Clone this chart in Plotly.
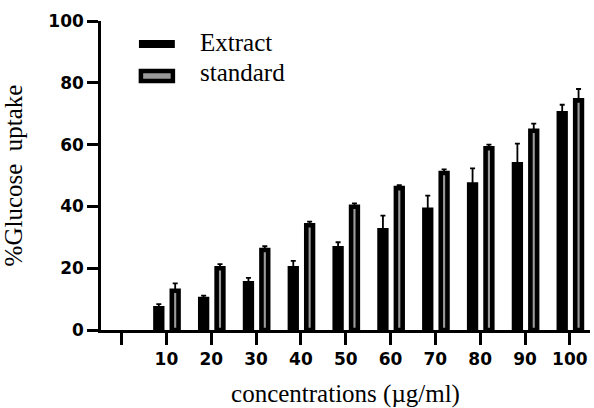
import plotly.graph_objects as go

categories = ["", "10", "20", "30", "40", "50", "60", "70", "80", "90", "100"]
conc_labels = ["10", "20", "30", "40", "50", "60", "70", "80", "90", "100"]
extract_vals = [7.0, 10.0, 15.1, 20.0, 26.4, 32.3, 38.9, 47.1, 53.6, 70.1]
extract_err = [1.4, 1.1, 1.8, 2.4, 2.0, 4.7, 4.6, 5.2, 6.7, 2.8]
standard_vals = [12.7, 20.0, 25.9, 33.9, 39.9, 45.9, 50.8, 58.8, 64.5, 74.3]
standard_err = [2.4, 1.3, 1.2, 1.2, 1.1, 1.0, 1.2, 1.2, 2.3, 3.7]
y_ticks = [0, 20, 40, 60, 80, 100]
series_names = ["Extract", "standard"]

# positions of the concentration categories on the axis (index in categories)
xpos = [categories.index(c) for c in conc_labels]

SANS = "DejaVu Sans, Arial, sans-serif"
SERIF = "Liberation Serif, Times New Roman, serif"

fig = go.Figure()
fig.add_trace(go.Bar(
    x=xpos, y=extract_vals, name=series_names[0],
    width=0.15, offset=-0.245,
    marker=dict(color="black", line=dict(color="black", width=4.6)),
    error_y=dict(type="data", array=extract_err, arrayminus=[0] * len(extract_err),
                 symmetric=False, color="black", thickness=1.8, width=2.5),
    showlegend=False,
))
fig.add_trace(go.Bar(
    x=xpos, y=standard_vals, name=series_names[1],
    width=0.15, offset=0.12,
    marker=dict(color="#9a9a9a", line=dict(color="black", width=4.6)),
    error_y=dict(type="data", array=standard_err, arrayminus=[0] * len(standard_err),
                 symmetric=False, color="black", thickness=1.8, width=2.5),
    showlegend=False,
))

# legend drawn manually to match the wide legend swatches
fig.add_shape(type="rect", xref="paper", yref="paper",
              x0=0.0776, x1=0.151, y0=0.9126, y1=0.9385,
              fillcolor="black", line=dict(width=0))
fig.add_shape(type="rect", xref="paper", yref="paper",
              x0=0.0816, x1=0.147, y0=0.806, y1=0.838,
              fillcolor="#9a9a9a", line=dict(color="black", width=4.5))
fig.add_annotation(text=series_names[0], xref="paper", yref="paper",
                   x=0.198, y=0.929, xanchor="left", yanchor="middle",
                   showarrow=False, font=dict(family=SERIF, size=25, color="black"))
fig.add_annotation(text=series_names[1], xref="paper", yref="paper",
                   x=0.198, y=0.832, xanchor="left", yanchor="middle",
                   showarrow=False, font=dict(family=SERIF, size=25, color="black"))

fig.update_layout(
    width=594, height=408,
    margin=dict(l=101, r=4, t=21, b=78),
    paper_bgcolor="white", plot_bgcolor="white",
    barmode="overlay",
    showlegend=False,
)
fig.update_xaxes(
    range=[-0.46, 10.45],
    tickvals=list(range(len(categories))), ticktext=categories,
    showline=True, linecolor="black", linewidth=2.5,
    ticks="outside", ticklen=12, tickwidth=2.5, tickcolor="black",
    showgrid=False, zeroline=False,
    tickfont=dict(family=SANS, size=17, color="black", weight="bold"),
    title=dict(text="concentrations (µg/ml)", standoff=17,
               font=dict(family=SERIF, size=25, color="black")),
)
fig.update_yaxes(
    range=[0, 100],
    tickvals=y_ticks,
    showline=True, linecolor="black", linewidth=2.5,
    ticks="outside", ticklen=11, tickwidth=2.5, tickcolor="black",
    showgrid=False, zeroline=False,
    tickfont=dict(family=SANS, size=17, color="black", weight="bold"),
    title=dict(text="%Glucose\u00a0 uptake", standoff=20,
               font=dict(family=SERIF, size=25, color="black")),
)

fig.write_html("out.html", config={"displayModeBar": False},
               post_script="document.body.style.margin='0';")
